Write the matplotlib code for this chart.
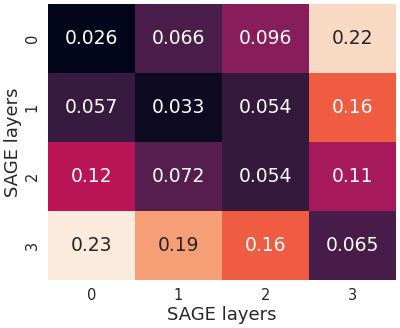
import matplotlib
matplotlib.use("Agg")
import matplotlib.pyplot as plt
import seaborn as sns
import numpy as np

row_labels = ["0", "1", "2", "3"]
col_labels = ["0", "1", "2", "3"]
row0 = [0.026, 0.066, 0.096, 0.22]
row1 = [0.057, 0.033, 0.054, 0.16]
row2 = [0.12, 0.072, 0.054, 0.11]
row3 = [0.23, 0.19, 0.16, 0.065]
values = np.array([row0, row1, row2, row3])

fig = plt.figure(figsize=(4.0, 3.28), dpi=100)
ax = fig.add_axes([0.12, 0.146, 0.87, 0.842])
sns.heatmap(values, ax=ax, cmap="rocket", cbar=False, annot=True, fmt=".2g",
            annot_kws={"fontsize": 13.5}, xticklabels=col_labels, yticklabels=row_labels)
ax.set_xlabel("SAGE layers", fontsize=13, color="#262626", labelpad=2)
ax.set_ylabel("SAGE layers", fontsize=13, color="#262626", labelpad=2)
ax.tick_params(labelsize=10.5, length=0, labelcolor="#262626", pad=6)
plt.setp(ax.get_yticklabels(), rotation=90, va="center")
fig.savefig("out.png", dpi=100)
